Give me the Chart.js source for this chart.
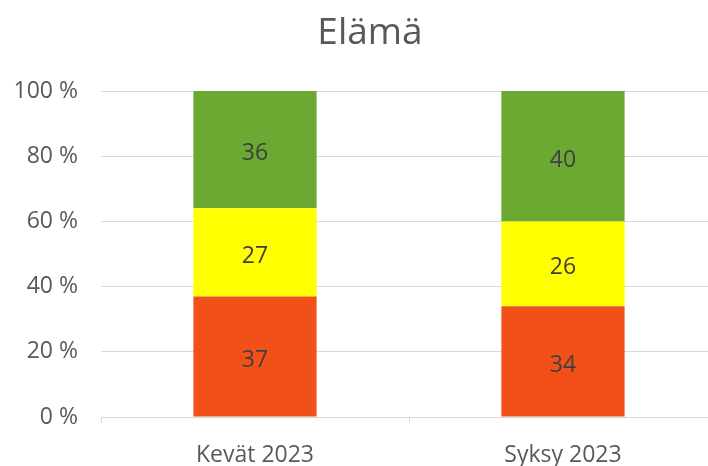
<!DOCTYPE html>
<html lang="fi">
<head>
  <meta charset="UTF-8">
  <title>Elämä</title>
  <script src="https://cdn.jsdelivr.net/npm/chart.js"></script>
  <style>
    html, body { margin: 0; padding: 0; background: #fff; overflow: hidden; }
    .wrap { width: 740px; height: 466px; }
  </style>
</head>
<body>
  <div class="wrap">
    <canvas id="mychart" width="740" height="466"></canvas>
  </div>
  <script>
    // chart data
    const categories = ['Kevät 2023', 'Syksy 2023'];
    const redValues = [37, 34];
    const yellowValues = [27, 26];
    const greenValues = [36, 40];
    const yTicks = [0, 20, 40, 60, 80, 100];
    const chartTitle = 'Elämä';

    const textColor = '#595959';
    const gridColor = '#d9d9d9';
    const fontFamily = '"Open Sans", Lato, sans-serif';

    // title drawn by hand so it sits centred on the whole picture, not the padded box
    const centredTitle = {
      id: 'centredTitle',
      afterDraw(chart) {
        const ctx = chart.ctx;
        ctx.save();
        ctx.font = '37px ' + fontFamily;
        ctx.fillStyle = textColor;
        ctx.textAlign = 'center';
        ctx.textBaseline = 'alphabetic';
        ctx.fillText(chartTitle, 370, 44);
        ctx.restore();
      }
    };

    // draws the number in the middle of every bar segment
    const segmentLabels = {
      id: 'segmentLabels',
      afterDatasetsDraw(chart) {
        const ctx = chart.ctx;
        ctx.save();
        ctx.font = '23px ' + fontFamily;
        ctx.fillStyle = '#404040';
        ctx.textAlign = 'center';
        ctx.textBaseline = 'middle';
        chart.data.datasets.forEach((ds, i) => {
          chart.getDatasetMeta(i).data.forEach((bar, j) => {
            const mid = (bar.y + bar.base) / 2;
            ctx.fillText(ds.data[j], bar.x, mid + 4);
          });
        });
        ctx.restore();
      }
    };

    new Chart(document.getElementById('mychart'), {
      type: 'bar',
      data: {
        labels: categories,
        datasets: [
          { label: 'Punainen', data: redValues, backgroundColor: '#F15119' },
          { label: 'Keltainen', data: yellowValues, backgroundColor: '#FFFF00' },
          { label: 'Vihreä', data: greenValues, backgroundColor: '#6BA932' }
        ]
      },
      options: {
        responsive: false,
        animation: false,
        layout: { padding: { left: 0, right: 23, top: 91, bottom: 0 } },
        datasets: { bar: { categoryPercentage: 1, barPercentage: 0.4 } },
        plugins: {
          legend: { display: false },
          tooltip: { enabled: false },
          title: { display: false }
        },
        scales: {
          x: {
            stacked: true,
            grid: { offset: true, drawOnChartArea: false, color: gridColor, tickLength: 6 },
            border: { color: gridColor },
            ticks: { color: textColor, padding: 19, font: { family: fontFamily, size: 23 } },
            afterFit(scale) { scale.height = 49; }
          },
          y: {
            stacked: true,
            min: 0,
            max: 100,
            afterBuildTicks(scale) { scale.ticks = yTicks.map(v => ({ value: v })); },
            grid: { color: gridColor, drawTicks: false },
            border: { display: false },
            ticks: {
              color: textColor,
              padding: 23,
              font: { family: fontFamily, size: 23 },
              callback: v => v + ' %'
            },
            afterFit(scale) { scale.width = 101; }
          }
        }
      },
      plugins: [segmentLabels, centredTitle]
    });
  </script>
</body>
</html>
